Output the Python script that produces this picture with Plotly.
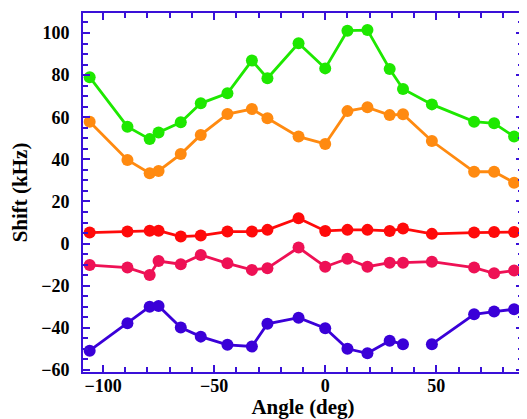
import plotly.graph_objects as go

angles = [-106, -89, -79, -75, -65, -56, -44, -33, -26, -12, 0, 10, 19, 29, 35, 48, 67, 76, 85]
green = [79, 55.5, 49.6, 52.8, 57.6, 66.6, 71.4, 86.9, 78.5, 95.1, 83.2, 101.1, 101.4, 82.9, 73.4, 66.1, 57.9, 57.1, 50.8]
orange = [57.9, 39.7, 33.4, 34.5, 42.5, 51.6, 61.5, 63.9, 59.5, 50.8, 47.3, 62.9, 64.7, 61.0, 61.4, 48.7, 34.1, 34.1, 28.9]
red = [5.2, 5.7, 6.1, 6.1, 3.3, 3.8, 5.7, 5.7, 6.5, 12.0, 6.0, 6.5, 6.5, 6.0, 7.1, 4.6, 5.2, 5.5, 5.5]
pink = [-10.2, -11.4, -14.9, -8.3, -9.8, -5.4, -9.4, -12.5, -11.7, -1.9, -11.0, -7.2, -11.0, -9.1, -9.1, -8.6, -11.4, -14.1, -12.8]
blue = [-50.9, -37.9, -30.0, -29.6, -39.9, -44.2, -48.1, -48.9, -38.1, -35.2, -40.2, -50.0, -52.1, -46.2, -47.8, None, -47.8, -33.6, -32.3, -31.2]
blue_angles = angles[:15] + [41] + angles[15:]

series = [
    (green, angles, "#1ee800"),
    (orange, angles, "#ff8a10"),
    (red, angles, "#ff0a0a"),
    (pink, angles, "#ee1155"),
    (blue, blue_angles, "#3a00d8"),
]

fig = go.Figure()
for ys, xs, col in series:
    fig.add_trace(go.Scatter(
        x=xs, y=ys, mode="lines+markers",
        line=dict(color=col, width=2.8),
        marker=dict(color=col, size=12),
        connectgaps=False, showlegend=False,
    ))

axis_col = "#3a10d8"

# the page body adds an 8px margin, so the figure is sized and offset to compensate
fig.update_layout(
    width=519, height=411,
    margin=dict(l=75, r=4, t=5, b=47),
    paper_bgcolor="white", plot_bgcolor="white",
    font=dict(family="Liberation Serif", color="black"),
    xaxis=dict(
        range=[-109, 89], dtick=50, tick0=0, automargin=False,
        showgrid=False, zeroline=False,
        showline=True, linecolor=axis_col, linewidth=2, mirror="allticks",
        ticks="inside", ticklen=7, tickwidth=2, tickcolor=axis_col,
        minor=dict(dtick=10, ticks="inside", ticklen=5, tickwidth=2, tickcolor=axis_col),
        tickfont=dict(family="Liberation Serif", size=18, color="black", weight="bold"),
        ticklabelstandoff=-4,
        title=dict(text="<b>Angle (deg)</b>", font=dict(family="Liberation Serif", size=21, color="black"), standoff=8),
    ),
    yaxis=dict(
        range=[-61, 109.5], dtick=20, tick0=0, automargin=False,
        showgrid=False, zeroline=False,
        showline=True, linecolor=axis_col, linewidth=2, mirror="allticks",
        ticks="inside", ticklen=7, tickwidth=2, tickcolor=axis_col,
        minor=dict(dtick=5, ticks="inside", ticklen=5, tickwidth=2, tickcolor=axis_col),
        tickfont=dict(family="Liberation Serif", size=18, color="black", weight="bold"),
        ticklabelstandoff=8,
        title=dict(text="<b>Shift (kHz)</b>", font=dict(family="Liberation Serif", size=21, color="black"), standoff=12),
    ),
)

fig.write_html("out.html")
